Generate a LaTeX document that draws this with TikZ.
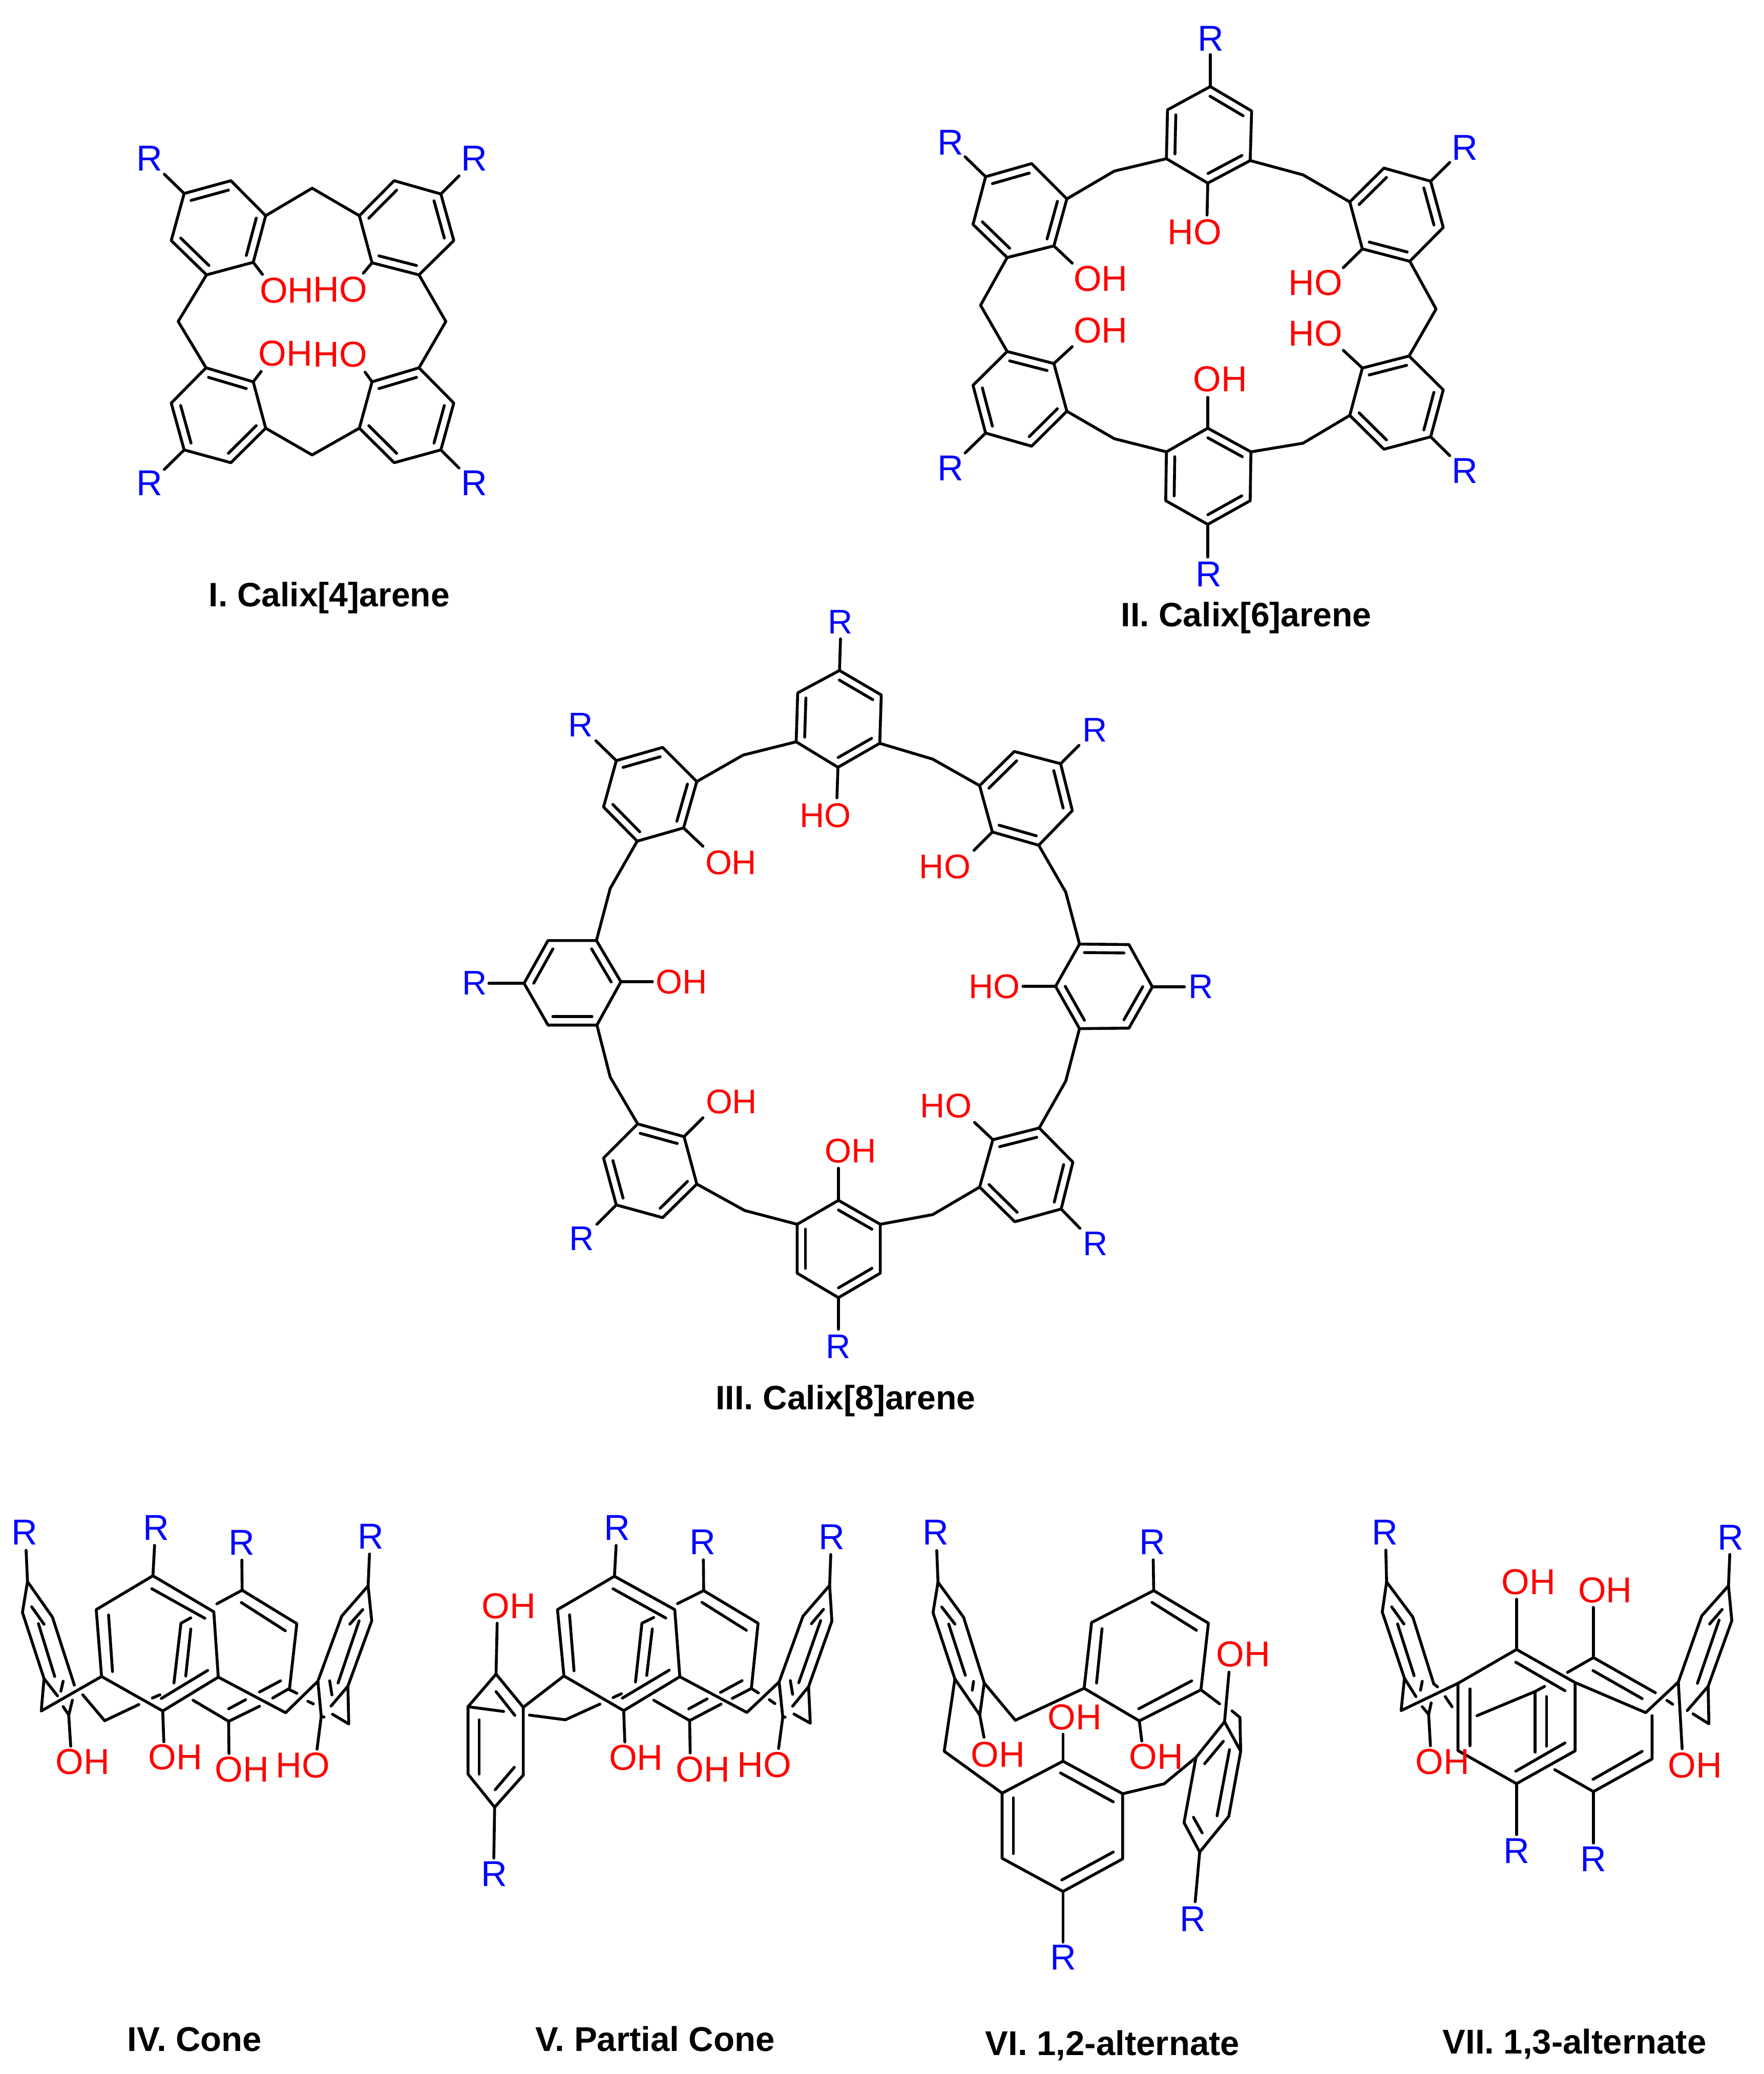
\documentclass[tikz,border=0pt]{standalone}
\usepackage{fontspec}
\setmainfont{Liberation Sans}
\usetikzlibrary{calc}
\definecolor{rblue}{RGB}{0,0,255}
\definecolor{ored}{RGB}{255,0,0}
\tikzset{
  bond/.style={draw=black,line width=1.6pt,line cap=round,line join=round},
  rlab/.style={text=rblue,inner sep=0pt,font=\fontsize{20}{20}\selectfont},
  olab/.style={text=ored,inner sep=0pt,font=\fontsize{20}{20}\selectfont},
  rlabs/.style={text=rblue,inner sep=0pt,font=\fontsize{19}{19}\selectfont},
  olabs/.style={text=ored,inner sep=0pt,font=\fontsize{19}{19}\selectfont},
  title/.style={text=black,inner sep=0pt,anchor=base,font=\fontsize{18.8}{19}\selectfont\bfseries},
  titleb/.style={text=black,inner sep=0pt,anchor=base,font=\fontsize{19.1}{19}\selectfont\bfseries}
}
% ring: name, six vertices
\newcommand{\hexring}[7]{%
  \coordinate (#1-1) at (#2); \coordinate (#1-2) at (#3); \coordinate (#1-3) at (#4);
  \coordinate (#1-4) at (#5); \coordinate (#1-5) at (#6); \coordinate (#1-6) at (#7);
  \coordinate (#1-c) at (barycentric cs:#1-1=1,#1-2=1,#1-3=1,#1-4=1,#1-5=1,#1-6=1);
  \draw[bond] (#1-1)--(#1-2)--(#1-3)--(#1-4)--(#1-5)--(#1-6)--cycle;}
\newcommand{\dblin}[3]{\draw[bond] ($(#1-#2)!0.2!(#1-c)$) -- ($(#1-#3)!0.2!(#1-c)$);}
\newcommand{\dblsA}[1]{\dblin{#1}{1}{2}\dblin{#1}{3}{4}\dblin{#1}{5}{6}}
\newcommand{\dblsB}[1]{\dblin{#1}{2}{3}\dblin{#1}{4}{5}\dblin{#1}{6}{1}}
% substituent: ring, vertex, bond end, style, label centre, text
\newcommand{\chemsub}[6]{\coordinate (#1-#2e) at (#3); \draw[bond] (#1-#2) -- (#1-#2e); \node[#4] (#1-#2l) at (#5) {#6};}
% CH2 bridge: name, from, position, to
\newcommand{\bridge}[4]{\coordinate (#1) at (#3); \draw[bond] (#2) -- (#1) -- (#4);}
\newcommand{\seg}[1]{\draw[bond] #1;}
\begin{document}
\begin{tikzpicture}
\useasboundingbox (0,0) rectangle (34.43,-40.5);
\fill[white] (0,0) rectangle (34.43,-40.5);

% ---------- I ----------
\begin{scope}[shift={(2.30,-2.60)},x=0.0048469cm,y=-0.0047194cm]
\hexring{Ia}{267,250}{455,197}{595,342}{545,535}{357,587}{215,445}\dblsA{Ia}
\hexring{Ib}{1300,252}{1112,197}{972,342}{1023,537}{1212,587}{1352,445}\dblsB{Ib}
\hexring{Ic}{1300,1312}{1112,1365}{972,1222}{1023,1030}{1212,972}{1352,1118}\dblsB{Ic}
\hexring{Id}{267,1312}{455,1365}{595,1222}{545,1030}{355,972}{215,1118}\dblsB{Id}
\bridge{Im1}{Ia-3}{782,228}{Ib-3}
\bridge{Im2}{Ib-5}{1320,780}{Ic-5}
\bridge{Im3}{Ic-3}{782,1333}{Id-3}
\bridge{Im4}{Ia-5}{243,780}{Id-5}
\chemsub{Ia}{1}{187,170}{rlab}{128,105}{R}
\chemsub{Ib}{1}{1373,177}{rlab}{1435,105}{R}
\chemsub{Ic}{1}{1373,1387}{rlab}{1435,1450}{R}
\chemsub{Id}{1}{187,1393}{rlab}{128,1450}{R}
\chemsub{Ia}{4}{582,585}{olab}{680,652}{OH}
\chemsub{Ib}{4}{988,580}{olab}{895,648}{HO}
\chemsub{Ic}{4}{995,990}{olab}{895,917}{HO}
\chemsub{Id}{4}{577,987}{olab}{675,913}{OH}
\end{scope}

% ---------- II ----------
\begin{scope}[shift={(18.00,-0.20)},x=0.0070153cm,y=-0.0073342cm]
\hexring{IIa}{802,203}{917,268}{913,400}{795,460}{680,395}{683,265}\dblsA{IIa}
\hexring{IIb}{177,443}{305,408}{403,502}{367,627}{237,658}{142,570}\dblsA{IIb}
\hexring{IIc}{177,1125}{305,1160}{403,1067}{367,940}{237,908}{142,998}\dblsB{IIc}
\hexring{IId}{795,1368}{913,1305}{915,1175}{795,1112}{680,1175}{678,1305}\dblsA{IId}
\hexring{IIe}{1415,1135}{1285,1168}{1190,1078}{1225,952}{1355,920}{1450,1010}\dblsB{IIe}
\hexring{IIf}{1415,455}{1285,420}{1190,510}{1225,635}{1357,668}{1450,578}\dblsB{IIf}
\bridge{IIm1}{IIa-5}{535,428}{IIb-3}
\bridge{IIm2}{IIb-5}{163,785}{IIc-5}
\bridge{IIm3}{IIc-3}{535,1140}{IId-5}
\bridge{IIm4}{IId-3}{1060,1152}{IIe-3}
\bridge{IIm5}{IIe-5}{1430,795}{IIf-5}
\bridge{IIm6}{IIf-3}{1060,438}{IIa-3}
\chemsub{IIa}{1}{802,118}{rlab}{803,75}{R}
\chemsub{IIb}{1}{120,390}{rlab}{80,352}{R}
\chemsub{IIc}{1}{120,1178}{rlab}{80,1218}{R}
\chemsub{IId}{1}{795,1455}{rlab}{797,1500}{R}
\chemsub{IIe}{1}{1468,1185}{rlab}{1510,1225}{R}
\chemsub{IIf}{1}{1468,405}{rlab}{1510,365}{R}
\chemsub{IIa}{4}{793,545}{olab}{758,590}{HO}
\chemsub{IIb}{4}{418,673}{olab}{497,715}{OH}
\chemsub{IIc}{4}{418,895}{olab}{497,852}{OH}
\chemsub{IId}{4}{795,1030}{olab}{830,982}{OH}
\chemsub{IIe}{4}{1172,905}{olab}{1095,860}{HO}
\chemsub{IIf}{4}{1172,685}{olab}{1095,725}{HO}
\end{scope}

% ---------- III ----------
\begin{scope}[shift={(8.60,-11.70)},x=0.009949cm,y=-0.009949cm]
\hexring{Ta}{783,140}{865,188}{862,283}{780,330}{698,280}{701,184}\dblsA{Ta}
\hexring{Tb}{345,317}{436,291}{503,358}{477,449}{386,475}{320,408}\dblsA{Tb}
\hexring{Tc}{164,754}{211,670}{306,670}{354,751}{307,836}{211,836}\dblsA{Tc}
\hexring{Td}{345,1189}{436,1214}{503,1148}{478,1055}{387,1030}{320,1097}\dblsB{Td}
\hexring{Te}{781,1371}{863,1323}{863,1227}{781,1180}{700,1227}{700,1323}\dblsA{Te}
\hexring{Tf}{1218,1197}{1127,1222}{1058,1154}{1084,1061}{1175,1038}{1241,1105}\dblsB{Tf}
\hexring{Tg}{1397,761}{1351,842}{1254,843}{1207,760}{1254,677}{1351,678}\dblsA{Tg}
\hexring{Th}{1217,323}{1126,299}{1058,366}{1083,457}{1174,483}{1240,415}\dblsB{Th}
\bridge{Tm1}{Ta-5}{594,306}{Tb-3}
\bridge{Tm2}{Tb-5}{333,568}{Tc-3}
\bridge{Tm3}{Tc-5}{333,938}{Td-5}
\bridge{Tm4}{Td-3}{597,1200}{Te-5}
\bridge{Tm5}{Te-3}{966,1208}{Tf-3}
\bridge{Tm6}{Tf-5}{1227,946}{Tg-3}
\bridge{Tm7}{Tg-5}{1227,575}{Th-5}
\bridge{Tm8}{Th-3}{966,314}{Ta-3}
\chemsub{Ta}{1}{785,78}{rlabs}{785,45}{R}
\chemsub{Tb}{1}{305,278}{rlabs}{275,247}{R}
\chemsub{Tc}{1}{95,754}{rlabs}{67,753}{R}
\chemsub{Td}{1}{307,1227}{rlabs}{277,1255}{R}
\chemsub{Te}{1}{781,1433}{rlabs}{781,1467}{R}
\chemsub{Tf}{1}{1255,1235}{rlabs}{1285,1265}{R}
\chemsub{Tg}{1}{1460,761}{rlabs}{1492,760}{R}
\chemsub{Th}{1}{1253,287}{rlabs}{1284,257}{R}
\chemsub{Ta}{4}{778,390}{olabs}{755,425}{HO}
\chemsub{Tb}{4}{515,485}{olabs}{570,517}{OH}
\chemsub{Tc}{4}{416,751}{olabs}{473,751}{OH}
\chemsub{Td}{4}{515,1018}{olabs}{571,987}{OH}
\chemsub{Te}{4}{781,1117}{olabs}{805,1083}{OH}
\chemsub{Tf}{4}{1048,1027}{olabs}{992,995}{HO}
\chemsub{Tg}{4}{1143,760}{olabs}{1087,760}{HO}
\chemsub{Th}{4}{1047,493}{olabs}{990,525}{HO}
\end{scope}

% ---------- IV ----------
\begin{scope}[shift={(0,-29.20)},x=0.0054847cm,y=-0.0042092cm]
\seg{(93,255)--(98,400)}
\seg{(98,400)--(187,565)--(265,880)}
\seg{(98,400)--(80,543)--(157,850)--(205,930)}
\seg{(157,850)--(147,1000)--(362,840)}
\seg{(113,517)--(157,598)}\seg{(137,595)--(195,840)}\seg{(225,862)--(217,908)}
\seg{(258,950)--(245,1020)}\seg{(225,980)--(245,1018)}\seg{(245,1020)--(252,1163)}
\seg{(545,373)--(343,530)--(362,840)--(580,1000)--(778,843)--(762,540)--cycle}
\seg{(541,433)--(730,570)}\seg{(387,555)--(401,817)}\seg{(575,942)--(740,812)}
\seg{(551,232)--(545,373)}\seg{(580,1000)--(584,1143)}
\seg{(773,503)--(863,440)--(1058,595)--(1032,895)--(972,940)}
\seg{(860,497)--(1017,628)}
\seg{(925,978)--(815,1048)--(688,950)}
\seg{(815,990)--(875,948)}\seg{(1000,860)--(925,912)}
\seg{(1030,900)--(1058,918)}
\seg{(815,1048)--(816,1197)}\seg{(863,440)--(862,300)}
\seg{(680,568)--(645,593)--(620,870)}\seg{(680,620)--(662,838)}
\seg{(570,925)--(543,940)}
\seg{(295,925)--(373,1045)--(495,970)}
\seg{(778,843)--(1018,1008)--(1133,862)}
\seg{(1317,272)--(1312,420)}
\seg{(1312,420)--(1218,560)--(1133,862)}
\seg{(1312,420)--(1325,582)--(1240,885)}
\seg{(1293,530)--(1247,597)}\seg{(1280,582)--(1205,870)}\seg{(1175,860)--(1183,925)}
\seg{(1240,885)--(1180,977)}\seg{(1240,885)--(1243,1060)--(1185,1015)}
\seg{(1133,862)--(1145,1025)--(1130,1177)}
\seg{(1097,955)--(1117,967)}\seg{(1145,1025)--(1155,1028)}
\node[rlab] (IVr1) at (88,172) {R};
\node[rlab] (IVr2) at (557,150) {R};
\node[rlab] (IVr3) at (862,218) {R};
\node[rlab] (IVr4) at (1322,190) {R};
\node[olab] (IVo1) at (295,1235) {OH};
\node[olab] (IVo2) at (625,1215) {OH};
\node[olab] (IVo3) at (862,1270) {OH};
\node[olab] (IVo4) at (1080,1252) {HO};
\end{scope}

% ---------- V ----------
\begin{scope}[shift={(8.60,-29.20)},x=0.0054847cm,y=-0.0051020cm]
\seg{(198,685)--(98,810)--(98,1068)--(193,1195)--(295,1072)--(295,812)--cycle}
\seg{(198,752)--(265,843)}\seg{(138,860)--(138,1068)}\seg{(195,1128)--(263,1042)}
\seg{(98,810)--(225,828)}
\seg{(198,685)--(202,490)}\seg{(193,1195)--(190,1390)}
\seg{(295,812)--(440,692)}
\seg{(317,842)--(445,860)--(568,800)}
\seg{(620,310)--(417,438)--(440,692)--(653,825)--(853,695)--(835,438)--cycle}
\seg{(615,358)--(803,470)}\seg{(460,458)--(476,672)}\seg{(648,777)--(815,670)}
\seg{(626,192)--(620,310)}\seg{(653,825)--(657,945)}
\seg{(845,415)--(938,365)--(1132,490)--(1108,740)--(1040,778)}
\seg{(932,410)--(1090,517)}\seg{(1075,710)--(998,755)}
\seg{(885,818)--(950,780)}
\seg{(760,785)--(888,863)--(1000,800)}
\seg{(1108,740)--(1133,757)}
\seg{(853,695)--(1092,832)--(1207,715)}
\seg{(937,247)--(938,365)}\seg{(888,863)--(890,987)}
\seg{(760,468)--(718,490)--(695,715)}\seg{(755,512)--(735,690)}
\seg{(645,760)--(615,775)}
\seg{(1391,227)--(1387,345)}
\seg{(1387,345)--(1292,463)--(1207,715)}
\seg{(1387,345)--(1395,482)--(1312,733)}
\seg{(1365,437)--(1322,492)}\seg{(1355,480)--(1277,718)}\seg{(1247,710)--(1255,762)}
\seg{(1312,733)--(1255,808)}\seg{(1312,733)--(1318,873)--(1260,838)}
\seg{(1207,715)--(1220,850)--(1205,970)}
\seg{(1172,783)--(1192,798)}\seg{(1220,850)--(1228,850)}
\node[rlab] (Vr1) at (630,125) {R};
\node[rlab] (Vr2) at (935,180) {R};
\node[rlab] (Vr3) at (1395,160) {R};
\node[rlab] (Vr4) at (192,1450) {R};
\node[olab] (Vo1) at (243,425) {OH};
\node[olab] (Vo2) at (697,1005) {OH};
\node[olab] (Vo3) at (935,1050) {OH};
\node[olab] (Vo4) at (1155,1033) {HO};
\end{scope}

% ---------- VI ----------
\begin{scope}[shift={(17.60,-29.20)},x=0.0048469cm,y=-0.0060587cm]
\seg{(142,178)--(147,280)}
\seg{(147,280)--(127,378)--(215,592)--(315,708)--(333,605)--(250,393)--cycle}
\seg{(162,360)--(215,415)}\seg{(190,415)--(257,580)}\seg{(290,600)--(285,628)}
\seg{(333,605)--(458,725)--(735,622)}
\seg{(215,592)--(172,825)--(405,960)}
\seg{(315,708)--(332,780)}
\seg{(1015,307)--(765,410)--(735,622)--(957,727)--(1205,627)--(1235,412)--cycle}
\seg{(1008,345)--(1187,435)}\seg{(807,430)--(785,605)}\seg{(955,688)--(1168,598)}
\seg{(1205,627)--(1280,672)}
\seg{(1013,208)--(1015,307)}\seg{(957,727)--(967,792)}
\seg{(1330,695)--(1362,716)--(1365,825)}
\seg{(650,857)--(405,960)--(405,1170)--(650,1277)--(890,1172)--(890,962)--cycle}
\seg{(640,895)--(852,988)}\seg{(450,975)--(450,1155)}\seg{(645,1240)--(852,1150)}
\seg{(650,857)--(650,770)}\seg{(650,1277)--(650,1440)}
\seg{(890,962)--(1057,930)--(1185,845)}
\seg{(1300,730)--(1185,845)--(1137,1055)--(1200,1150)--(1317,1035)--(1365,825)--cycle}
\seg{(1295,793)--(1220,865)}\seg{(1320,820)--(1270,1033)}\seg{(1175,1038)--(1210,1088)}
\seg{(1300,730)--(1318,570)}\seg{(1200,1150)--(1182,1310)}
\node[rlab] (VIr1) at (137,120) {R};
\node[rlab] (VIr2) at (1010,150) {R};
\node[rlab] (VIr3) at (650,1490) {R};
\node[rlab] (VIr4) at (1172,1365) {R};
\node[olab] (VIo1) at (388,835) {OH};
\node[olab] (VIo2) at (697,715) {OH};
\node[olab] (VIo3) at (1025,842) {OH};
\node[olab] (VIo4) at (1375,512) {OH};
\end{scope}

% ---------- VII ----------
\begin{scope}[shift={(26.40,-29.20)},x=0.0049745cm,y=-0.0049745cm]
\seg{(132,215)--(135,340)}
\seg{(135,340)--(118,458)--(205,718)--(192,845)--(415,738)}
\seg{(135,340)--(238,478)--(320,740)}
\seg{(205,718)--(250,790)}
\seg{(155,438)--(203,505)}\seg{(178,505)--(243,708)}\seg{(275,730)--(268,765)}
\seg{(310,815)--(300,860)--(275,830)}\seg{(300,860)--(307,983)}
\seg{(320,740)--(335,752)}\seg{(365,790)--(392,830)}
\seg{(645,605)--(415,738)--(415,1002)--(645,1132)--(875,1003)--(875,735)--cycle}
\seg{(642,655)--(835,767)}\seg{(462,760)--(462,983)}\seg{(642,1083)--(835,972)}
\seg{(645,605)--(645,408)}\seg{(645,1132)--(645,1332)}
\seg{(845,695)--(947,637)--(1190,775)}\seg{(945,688)--(1138,798)}
\seg{(875,735)--(1152,853)--(1280,733)}
\seg{(1177,865)--(1177,1035)--(947,1163)--(795,1077)}
\seg{(1138,1005)--(945,1115)}
\seg{(947,637)--(947,440)}\seg{(947,1163)--(947,1365)}
\seg{(490,865)--(718,770)--(755,750)}
\seg{(718,770)--(718,1008)}\seg{(763,790)--(763,985)}
\seg{(1482,232)--(1477,355)}
\seg{(1477,355)--(1372,473)--(1280,733)}
\seg{(1477,355)--(1490,492)--(1397,750)}
\seg{(1452,448)--(1403,505)}\seg{(1440,490)--(1355,738)}\seg{(1235,805)--(1258,820)}
\seg{(1397,750)--(1315,845)}\seg{(1397,750)--(1400,897)--(1338,858)}
\seg{(1280,733)--(1295,995)}
\node[rlab] (VIIr1) at (128,145) {R};
\node[rlab] (VIIr2) at (1485,165) {R};
\node[rlab] (VIIr3) at (645,1395) {R};
\node[rlab] (VIIr4) at (947,1428) {R};
\node[olab] (VIIo1) at (355,1045) {OH};
\node[olab] (VIIo2) at (692,340) {OH};
\node[olab] (VIIo3) at (993,372) {OH};
\node[olab] (VIIo4) at (1345,1060) {OH};
\end{scope}

% ---------- titles ----------
\node[title] (t1) at (6.43,-11.84) {I. Calix[4]arene};
\node[title] (t2) at (24.33,-12.23) {II. Calix[6]arene};
\node[title] (t3) at (16.51,-27.52) {III. Calix[8]arene};
\node[titleb] (t4) at (3.80,-40.05) {IV. Cone};
\node[titleb] (t5) at (12.79,-40.05) {V. Partial Cone};
\node[titleb] (t6) at (21.72,-40.13) {VI. 1,2-alternate};
\node[titleb] (t7) at (30.74,-40.10) {VII. 1,3-alternate};
\end{tikzpicture}
\end{document}
